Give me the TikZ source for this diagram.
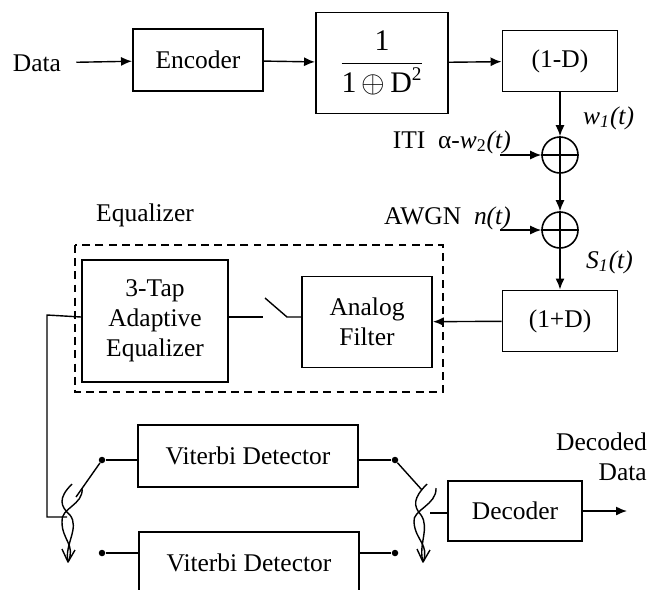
\documentclass[tikz,border=0pt]{standalone}
\usepackage{fontspec}
\setmainfont{Liberation Serif}
\usepackage{amsmath}
\usetikzlibrary{arrows.meta}

\begin{document}
\begin{tikzpicture}[x=0.2mm,y=-0.2mm,font=\fontsize{14.5}{17}\selectfont,
  >={Latex[length=2.2mm,width=1.8mm]},
  box/.style={draw,line width=1.1pt,align=center,inner sep=2pt},
  sig/.style={->,line width=0.8pt},
  wire/.style={line width=0.8pt},
  sum/.style={draw,circle,line width=0.9pt,minimum size=7.2mm,inner sep=0pt},
  tap/.style={circle,fill,inner sep=0pt,minimum size=1.3mm},
  curl/.style={line width=0.8pt,line join=round}]
\useasboundingbox (0,0) rectangle (655,589);
\clip (0,0) rectangle (655,589);
% forward path
\node (data) at (37,63) {Data};
\node[box,minimum width=26mm,minimum height=12.4mm] (enc) at (198,60) {Encoder};
\node[box,minimum width=26.4mm,minimum height=20.2mm] (frac) at (382,63)
  {\fontsize{17}{20}\selectfont$\dfrac{\text{1}}{\text{1}\,{\oplus}\,\text{D}^{\text{\fontsize{11}{12}\selectfont 2}}}$};
\node[box,minimum width=23mm,minimum height=12.2mm] (onem) at (560,61) {(1-D)};
\draw[sig,shorten <=1.8mm] (data) -- (enc);
\draw[sig] (enc) -- (frac);
\draw[sig] (frac) -- (onem);
% channel
\node[sum] (sum1) at (560,155) {};
\node[sum] (sum2) at (560,230) {};
\draw[wire] (sum1.north) -- (sum1.south) (sum1.west) -- (sum1.east);
\draw[wire] (sum2.north) -- (sum2.south) (sum2.west) -- (sum2.east);
\node[anchor=base west] at (577,124) {\textit{w\textsubscript{1}(t)}};
\node[anchor=base east] at (517,148) {ITI\ \ α-\textit{w}\textsubscript{2}\textit{(t)}};
\node[anchor=base east] at (517,224) {AWGN\ \ \textit{n(t)}};
\node[anchor=base west] at (580,268) {\textit{S\textsubscript{1}(t)}};
\coordinate (iti) at (500,155);
\coordinate (awgn) at (500,230);
\node[box,minimum width=23mm,minimum height=12.2mm] (onep) at (560,321) {(1+D)};
\draw[sig] (onem) -- (sum1);
\draw[sig] (iti) -- (sum1);
\draw[sig] (sum1) -- (sum2);
\draw[sig] (awgn) -- (sum2);
\draw[sig] (sum2) -- (onep);
% equalizer
\node[anchor=west] at (90,215) {Equalizer};
\draw[line width=0.9pt,dash pattern=on 4.5pt off 3pt] (75,245) rectangle (443,392);
\node[box,minimum width=29.2mm,minimum height=24.4mm] (eq) at (155,321)
  {3-Tap\\Adaptive\\Equalizer};
\node[box,minimum width=26mm,minimum height=18.2mm] (filt) at (367,322)
  {Analog\\Filter};
\draw[sig] (onep) -- (filt);
\coordinate (swa) at (263,317);
\coordinate (swb) at (265,298);
\coordinate (swc) at (287,317);
\draw[wire] (eq.east |- swa) -- (swa);
\draw[wire] (swb) -- (swc) -- (filt.west |- swc);
% detectors
\node[box,minimum width=44mm,minimum height=12.4mm] (vit1) at (248,456) {Viterbi Detector};
\node[box,minimum width=44mm,minimum height=12.4mm] (vit2) at (249,563) {Viterbi Detector};
\node[tap] (tl1) at (102,460) {};
\node[tap] (tl2) at (102,553) {};
\node[tap] (tr1) at (395,460) {};
\node[tap] (tr2) at (395,553) {};
\draw[wire] (tl1) -- (vit1.west |- tl1);
\draw[wire] (tl2) -- (vit2.west |- tl2);
\draw[wire] (vit1.east |- tr1) -- (tr1);
\draw[wire] (vit2.east |- tr2) -- (tr2);
\coordinate (lin) at (67,517);
\coordinate (lbl) at (76,497);
\draw[wire] (eq.west |- swa) -- (47,315) |- (lin);
\draw[wire] (tl1) -- (lbl);
% left rotary switch
\draw[curl] (72,484) .. controls (58,498) and (60,506) .. (70,515)
  .. controls (80,528) and (64,545) .. (68,562);
\draw[curl] (82,488) .. controls (84,505) and (60,508) .. (62,522)
  .. controls (62,540) and (76,545) .. (68,562);
\draw[curl] (62,549) -- (68,562) -- (75,550);
% right rotary switch
\coordinate (rbl) at (422,490);
\coordinate (rout) at (430,513);
\draw[wire] (tr1) -- (rbl);
\draw[curl] (427,484) .. controls (413,498) and (413,506) .. (421,515)
  .. controls (430,528) and (418,545) .. (423,562);
\draw[curl] (436,488) .. controls (437,505) and (412,510) .. (414,522)
  .. controls (415,540) and (430,545) .. (423,562);
\draw[curl] (417,549) -- (423,562) -- (430,550);
% decoder
\node[box,minimum width=26.8mm,minimum height=12mm] (dec) at (515,511) {Decoder};
\coordinate (out) at (627,511);
\draw[wire] (rout) -- (dec.west |- rout);
\draw[sig] (dec) -- (out);
\node[anchor=east,align=right] at (653,457) {Decoded\\Data};
\end{tikzpicture}
\end{document}
